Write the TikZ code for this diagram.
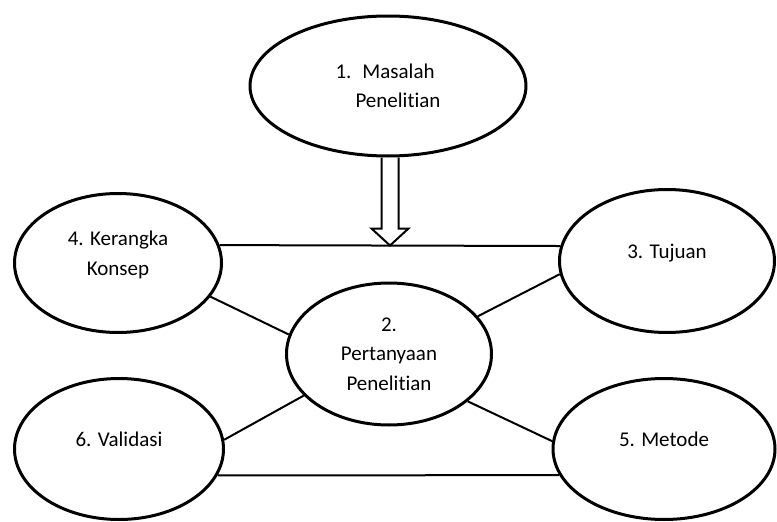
\documentclass[tikz,border=0pt]{standalone}
\usepackage{fontspec}
\setmainfont[Ligatures=NoCommon]{Carlito}
\usetikzlibrary{shapes.geometric}

\begin{document}
\begin{tikzpicture}[x=1pt, y=-1pt,
    bubble/.style={ellipse, draw, line width=3pt, inner sep=0pt, align=center,
        font=\fontsize{21}{29.5}\selectfont},
    lowtext/.style={text depth=20pt},
    link/.style={line width=2pt}]
    \useasboundingbox (0,0) rectangle (777,522);
    % ellipses
    \node[bubble, align=left, minimum width=276pt, minimum height=140pt] (masalah) at (388,86) {1.\hspace{11pt}Masalah\\\hspace{20pt}Penelitian};
    \node[bubble, lowtext, minimum width=207pt, minimum height=139pt] (kerangka) at (118,263) {4. Kerangka\\Konsep};
    \node[bubble, lowtext, minimum width=215pt, minimum height=143pt] (tujuan) at (667,261) {3. Tujuan};
    \node[bubble, minimum width=205pt, minimum height=142pt] (pertanyaan) at (389,354) {2.\\Pertanyaan\\Penelitian};
    \node[bubble, lowtext, minimum width=209pt, minimum height=141pt] (validasi) at (119,449) {6. Validasi};
    \node[bubble, lowtext, minimum width=222pt, minimum height=141pt] (metode) at (664,449) {5. Metode};
    % connectors
    \draw[link] (kerangka.10) -- (tujuan.172);
    \draw[link] (validasi.-15.4) -- (metode.194.6);
    \draw[link] (kerangka.-20) -- (pertanyaan.169);
    \draw[link] (tujuan.187.5) -- (pertanyaan.23);
    \draw[link] (validasi.5) -- (pertanyaan.206);
    \draw[link] (pertanyaan.-31) -- (metode.176);
    % hollow arrow
    \draw[link, line join=miter] ([xshift=-6.5pt]masalah.south) -- ++(0,71) -- ++(-10,0) -- ++(18.5,17)
        -- ++(18.5,-17) -- ++(-10,0) -- ([xshift=10.5pt]masalah.south);
\end{tikzpicture}
\end{document}
